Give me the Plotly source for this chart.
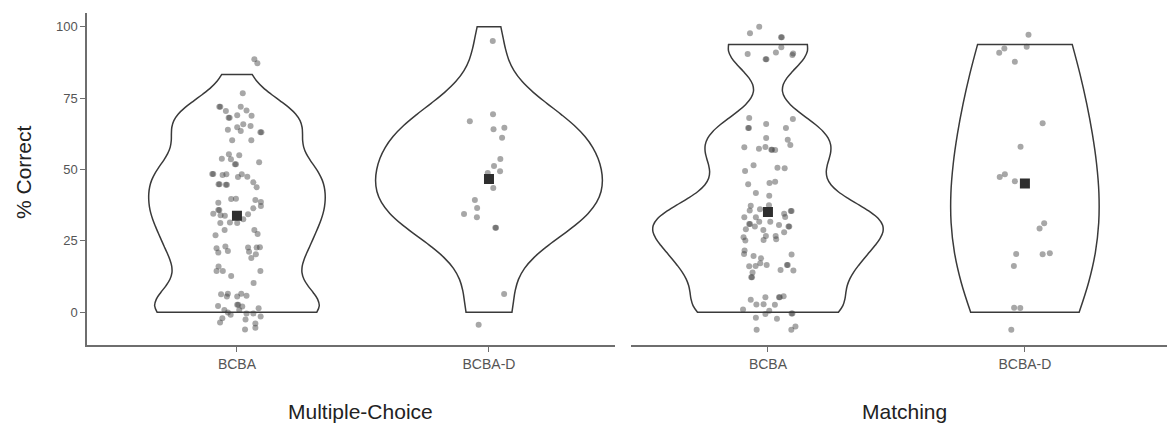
import numpy as np
import plotly.graph_objects as go

# ---------------- data ----------------
groups = ["BCBA", "BCBA-D"]
panels = ["Multiple-Choice", "Matching"]

# Multiple-Choice, BCBA (jittered % correct, horizontal jitter offset)
mc_bcba_y = [88.6, 87.2, 76.7, 72.0, 72.0, 70.5, 72.0, 70.7, 68.1, 68.1, 69.0, 68.8, 65.8, 65.2, 64.8,
             63.9, 63.5, 63.0, 63.0, 60.2, 60.2, 55.3, 55.0, 53.8, 53.6, 51.8, 51.8, 52.5, 48.4, 48.4,
             48.1, 48.3, 47.4, 48.3, 47.5, 45.5, 43.8, 44.8, 44.8, 44.7, 44.7, 39.7, 39.8, 39.3, 38.6,
             37.2, 38.4, 36.4, 34.5, 35.8, 35.8, 34.0, 33.8, 31.4, 31.3, 32.6, 34.3, 31.3, 28.8, 27.0,
             28.8, 27.4, 22.4, 20.9, 23.0, 21.5, 22.7, 21.2, 22.7, 22.8, 19.0, 20.3, 16.0, 14.5, 14.5,
             12.7, 14.5, 10.3, 6.3, 5.5, 6.5, 5.5, 6.5, 5.8, 2.2, 0.8, -0.1, -0.9, 2.6, 2.6,
             2.0, 0.8, -0.4, -0.4, 1.4, -1.5, -2.1, -3.6, -2.5, -3.9, -5.4, -6.0]
mc_bcba_dx = [0.069, 0.081, 0.023, -0.070, -0.066, -0.044, 0.015, 0.038, -0.033, -0.029, 0.001, 0.058, 0.025, 0.054, 0.001,
              -0.036, 0.015, 0.093, 0.097, -0.019, 0.057, -0.032, 0.009, -0.060, -0.024, -0.008, -0.004, 0.088, -0.098, -0.094,
              -0.057, -0.042, 0.004, 0.019, 0.041, 0.065, 0.078, -0.073, -0.069, -0.044, -0.040, -0.023, -0.004, 0.073, 0.095,
              0.095, -0.074, 0.065, -0.094, -0.074, -0.070, -0.065, -0.048, -0.028, 0.001, 0.025, 0.044, -0.066, -0.049, -0.085,
              0.069, 0.082, -0.081, -0.074, -0.046, -0.036, 0.044, 0.048, 0.078, 0.091, 0.057, 0.075, -0.073, -0.081, -0.056,
              -0.023, 0.093, 0.066, -0.063, -0.040, -0.036, 0.001, 0.017, 0.038, -0.075, -0.050, -0.036, -0.025, 0.001, 0.005,
              0.021, 0.009, 0.038, 0.065, 0.086, 0.094, -0.058, -0.067, 0.034, 0.073, 0.073, 0.032]

# Multiple-Choice, BCBA-D
mc_bcbad_y = [95.0, 69.3, 66.9, 64.1, 64.6, 61.1, 53.7, 51.2, 49.4, 48.8, 43.5, 39.3, 36.5, 34.4, 33.3,
              29.6, 29.6, 6.4, -4.4]
mc_bcbad_dx = [0.015, 0.016, -0.076, 0.018, 0.061, 0.052, 0.045, 0.020, 0.044, -0.005, 0.017, -0.056, -0.047, -0.099, -0.048,
               0.025, 0.028, 0.060, -0.041]

# Matching, BCBA
m_bcba_y = [97.7, 100.0, 96.3, 96.3, 90.4, 88.6, 88.6, 91.0, 92.8, 90.1, 90.6,
            68.0, 64.5, 64.5, 65.9, 64.5, 67.7, 61.0, 60.4, 58.6, 57.8, 57.3, 57.9, 56.9, 56.9, 56.8,
            51.5, 50.6, 50.4, 49.5, 44.8, 45.3, 45.7, 41.8, 40.8, 37.3, 36.1, 37.5, 35.6, 33.3, 33.3,
            30.9, 30.9, 30.0, 31.7, 31.7, 29.1, 28.8, 30.6, 34.5, 33.4, 35.5, 35.5, 30.0, 30.0, 28.0,
            26.3, 25.1, 26.7, 25.3, 26.7, 25.6, 21.6, 20.4, 19.7, 18.9, 17.2, 16.6, 16.1, 16.2, 16.6,
            16.6, 14.8, 20.2, 14.6, 13.9, 12.3, 12.3, 4.4, 5.3, 2.7, 2.8, 2.6, 5.3, 5.3, 5.6,
            1.0, 0.5, -0.6, -1.9, -2.3, -0.4, -0.4, -6.1, -6.1, -5.0]
m_bcba_dx = [-0.070, -0.034, 0.051, 0.054, -0.079, -0.009, -0.006, 0.031, 0.052, 0.095, 0.098,
             -0.073, -0.077, -0.074, -0.007, 0.070, 0.097, -0.007, 0.077, 0.087, -0.092, -0.035, -0.010, 0.013, 0.016, 0.028,
             -0.056, 0.037, 0.065, -0.089, -0.077, 0.006, 0.028, -0.047, 0.005, -0.067, -0.031, 0.004, -0.071, -0.092, -0.047,
             -0.073, -0.070, -0.051, -0.034, 0.009, -0.086, -0.018, 0.043, 0.063, 0.067, 0.089, 0.092, 0.080, 0.083, 0.063,
             -0.095, -0.088, -0.008, -0.017, 0.030, 0.032, -0.091, -0.093, -0.056, -0.027, -0.030, -0.005, -0.073, -0.048, 0.074,
             0.077, 0.049, 0.092, 0.099, -0.060, -0.065, -0.062, -0.067, -0.010, -0.045, -0.017, 0.027, 0.043, 0.046, 0.061,
             -0.097, 0.005, -0.010, -0.047, 0.035, 0.092, 0.095, -0.044, 0.091, 0.107]

# Matching, BCBA-D
m_bcbad_y = [97.2, 93.0, 92.4, 90.9, 87.7, 66.2, 58.0, 47.4, 48.3, 45.9, 31.2, 29.3, 20.4, 20.3, 20.7,
             16.2, 1.6, 1.5, -6.1]
m_bcbad_dx = [0.014, 0.007, -0.080, -0.100, -0.039, 0.069, -0.017, -0.098, -0.078, -0.039, 0.075, 0.057, -0.034, 0.069, 0.097,
              -0.043, -0.042, -0.018, -0.053]

# observed score ranges (min, max) per group -> violin trimmed to these
mc_ranges = [[0, 83.3], [0, 100.0]]
m_ranges = [[0, 93.8], [0, 93.8]]

# group means
mc_means = [33.8, 46.7]
m_means = [35.1, 45.1]

# ---------------- style ----------------
W, H = 1167, 423
FONT = "Liberation Sans, Arial, Helvetica, sans-serif"
violin_widths = {"x": [0.70, 0.90], "x2": [0.895, 0.576]}
bw_adjust = {"x": [0.8, 1.1], "x2": [0.7, 1.9]}


def nrd0(v):
    v = np.asarray(v, dtype=float)
    sd = v.std(ddof=1)
    q75, q25 = np.percentile(v, [75, 25])
    lo = min(sd, (q75 - q25) / 1.34)
    return 0.9 * lo * len(v) ** -0.2


panel_data = [
    ("x", "y", [(mc_bcba_y, mc_bcba_dx), (mc_bcbad_y, mc_bcbad_dx)], mc_ranges, mc_means),
    ("x2", "y2", [(m_bcba_y, m_bcba_dx), (m_bcbad_y, m_bcbad_dx)], m_ranges, m_means),
]

fig = go.Figure()
for xa, ya, series, ranges, means in panel_data:
    for i, (yv, dx) in enumerate(series):
        fig.add_trace(go.Violin(
            x=[i] * len(yv), y=yv, xaxis=xa, yaxis=ya,
            width=violin_widths[xa][i], scalemode="width",
            spanmode="manual", span=ranges[i], bandwidth=nrd0(yv) * bw_adjust[xa][i],
            points=False, fillcolor="white",
            line=dict(color="#3a3a3a", width=1.5),
            hoverinfo="skip", showlegend=False,
        ))
    for i, (yv, dx) in enumerate(series):
        fig.add_trace(go.Scatter(
            x=[i + d for d in dx], y=yv, xaxis=xa, yaxis=ya, mode="markers",
            marker=dict(size=6, color="rgba(60,60,60,0.45)", line=dict(width=0)),
            showlegend=False, hoverinfo="skip",
        ))
    fig.add_trace(go.Scatter(
        x=list(range(len(groups))), y=means, xaxis=xa, yaxis=ya, mode="markers",
        marker=dict(size=10, symbol="square", color="#2e2e2e", line=dict(width=0)),
        showlegend=False, hoverinfo="skip",
    ))

axis_line = dict(showline=True, linecolor="#6e6e6e", linewidth=1.5, ticks="outside",
                 ticklen=5, tickwidth=1.2, tickcolor="#6e6e6e", showgrid=False, zeroline=False)

fig.update_layout(
    width=W, height=H, autosize=False,
    margin=dict(l=0, r=0, t=0, b=0),
    paper_bgcolor="white", plot_bgcolor="white",
    violinmode="overlay", violingap=0, violingroupgap=0,
    font=dict(family=FONT, color="#555555"),
    xaxis=dict(domain=[87 / W, 615 / W], range=[-0.595, 1.5], type="linear",
               tickvals=[0, 1], ticktext=groups, tickfont=dict(size=14, color="#555555"),
               anchor="y", **axis_line),
    xaxis2=dict(domain=[631 / W, 1.0], range=[-0.533, 1.553], type="linear",
                tickvals=[0, 1], ticktext=groups, tickfont=dict(size=14, color="#555555"),
                anchor="y2", **axis_line),
    yaxis=dict(domain=[(H - 345) / H, (H - 12.7) / H], range=[-11.45, 104.9],
               tickvals=[0, 25, 50, 75, 100], tickfont=dict(size=13, color="#555555"),
               anchor="x", **axis_line),
    yaxis2=dict(domain=[(H - 345) / H, (H - 12.7) / H], range=[-11.45, 104.9],
                showline=False, showticklabels=False, ticks="", showgrid=False, zeroline=False,
                anchor="x2"),
    annotations=[
        dict(text=panels[0], x=360 / W, y=(H - 411) / H, xref="paper", yref="paper",
             showarrow=False, font=dict(size=21, color="#222222", family=FONT),
             xanchor="center", yanchor="middle"),
        dict(text=panels[1], x=904 / W, y=(H - 411) / H, xref="paper", yref="paper",
             showarrow=False, font=dict(size=21, color="#222222", family=FONT),
             xanchor="center", yanchor="middle"),
        dict(text="% Correct", x=23 / W, y=(H - 172) / H, xref="paper", yref="paper",
             showarrow=False, textangle=-90, font=dict(size=21, color="#222222", family=FONT),
             xanchor="center", yanchor="middle"),
    ],
)

fig.write_html("out.html")
